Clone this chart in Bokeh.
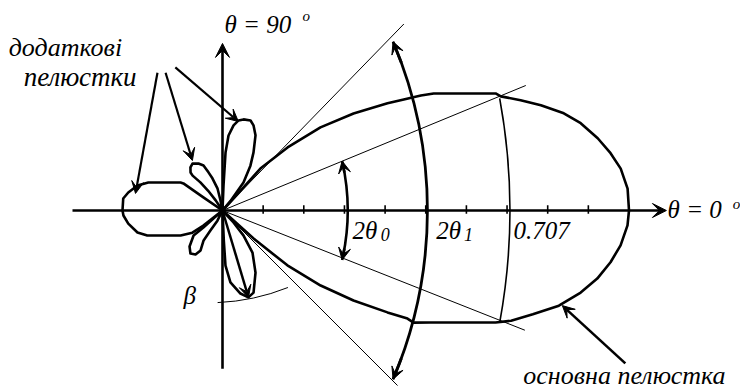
import numpy as np
from bokeh.plotting import figure
from bokeh.models import Range1d, Arrow, VeeHead, Label
from bokeh.embed import file_html
from bokeh.resources import INLINE

# Normalised field pattern |F(theta)|: angle in degrees, relative amplitude.
main_lobe_deg = [47.5, 47.9, 44.1, 40.3, 36.5, 33.0, 31.5, 30.1, 29.0, 23.2, 22.3,
                 20.3, 18.3, 15.9, 13.7, 10.9, 8.4, 6.0, 3.1, 0.0,
                 -2.1, -5.0, -7.6, -10.3, -12.9, -15.8, -18.5, -20.9, -22.3,
                 -28.3, -30.4, -30.3, -31.7, -34.5, -37.4, -40.2, -42.1]
main_lobe_r = [0.045, 0.139, 0.223, 0.316, 0.401, 0.484, 0.523, 0.564, 0.594, 0.731, 0.740,
               0.782, 0.825, 0.873, 0.907, 0.940, 0.965, 0.985, 0.998, 1.000,
               0.997, 0.983, 0.963, 0.937, 0.904, 0.860, 0.805, 0.760, 0.726,
               0.581, 0.545, 0.527, 0.477, 0.391, 0.304, 0.209, 0.103]

upper_lobe_deg = [50.0, 53.1, 58.1, 61.9, 66.3, 70.0, 72.7, 77.0, 79.9, 82.6, 85.4, 87.0, 87.7]
upper_lobe_r = [0.030, 0.086, 0.130, 0.162, 0.202, 0.223, 0.232, 0.230, 0.225, 0.211, 0.185, 0.143, 0.062]

lower_lobe_deg = [-47.5, -50.0, -54.5, -62.0, -69.3, -73.4, -77.8, -83.7, -86.9, -87.5]
lower_lobe_r = [0.040, 0.080, 0.127, 0.173, 0.216, 0.223, 0.209, 0.178, 0.136, 0.074]

upper_left_deg = [101.3, 102.8, 107.4, 110.2, 112.9, 117.1, 122.6, 126.7, 130.1, 130.6, 128.2, 126.0, 124.0]
upper_left_r = [0.025, 0.056, 0.083, 0.100, 0.120, 0.130, 0.137, 0.132, 0.122, 0.113, 0.088, 0.060, 0.030]

lower_left_deg = [-116.6, -121.0, -122.3, -118.8, -121.5, -126.7, -132.5, -139.2, -138.2, -138.4]
lower_left_r = [0.028, 0.057, 0.087, 0.112, 0.127, 0.132, 0.120, 0.094, 0.063, 0.030]

back_lobe_deg = [145.6, 145.3, 146.3, 159.3, 163.6, 169.2, 173.1, 180.0,
                 182.9, 187.9, 194.5, 198.4, 210.8, 216.3, 218.3]
back_lobe_r = [0.057, 0.117, 0.124, 0.195, 0.218, 0.236, 0.246, 0.246,
               0.244, 0.234, 0.216, 0.195, 0.120, 0.092, 0.060]

# amplitude scale marks along the 0 degree axis
scale_ticks = [0.1, 0.2, 0.3, 0.4, 0.5, 0.6, 0.7, 0.8, 0.9]
half_power_level = 0.707

W, H = 740, 391
PX = 406.5           # pixels per unit amplitude
X0, Y0 = 222, 210    # where the origin sits on the canvas

p = figure(width=W, height=H,
           x_range=Range1d(-X0 / PX, (W - X0) / PX),
           y_range=Range1d(-(H - Y0) / PX, Y0 / PX),
           output_backend="svg", toolbar_location=None, min_border=0,
           x_axis_location=None, y_axis_location=None,
           background_fill_color="white", border_fill_color="white")
p.grid.visible = False
p.outline_line_color = None

BLACK = "black"
FONT = "Liberation Serif"


def lobe(deg, r):
    t = np.radians([0.0] + list(deg) + [0.0])
    rr = np.array([0.0] + list(r) + [0.0])
    p.line(rr * np.cos(t), rr * np.sin(t), line_color=BLACK, line_width=2.6,
           line_join="round")


for d, r in [(main_lobe_deg, main_lobe_r), (upper_lobe_deg, upper_lobe_r),
             (lower_lobe_deg, lower_lobe_r), (upper_left_deg, upper_left_r),
             (lower_left_deg, lower_left_r), (back_lobe_deg, back_lobe_r)]:
    lobe(d, r)


def arrow(x1, y1, x2, y2, width=2.5, head=12):
    p.add_layout(Arrow(x_start=x1, y_start=y1, x_end=x2, y_end=y2,
                       line_color=BLACK, line_width=width,
                       end=VeeHead(size=head, fill_color=BLACK, line_color=BLACK,
                                   line_width=1)))


# coordinate axes
arrow(-0.369, 0.0, 1.092, 0.0, width=2.6, head=14)
arrow(0.0, -0.389, 0.0, 0.411, width=2.6, head=14)
p.segment(x0=scale_ticks, y0=[-0.008] * len(scale_ticks),
          x1=scale_ticks, y1=[0.013] * len(scale_ticks),
          line_color=BLACK, line_width=1.6)

# beam-width construction lines through the origin
rays = [(45.8, 0.640), (22.4, 0.807), (-21.6, 0.800), (-45.0, 0.609)]
for ang, length in rays:
    a = np.radians(ang)
    p.line([0, length * np.cos(a)], [0, length * np.sin(a)],
           line_color=BLACK, line_width=1.0)


def arc_with_heads(cx, r, a0, a1, width, heads=True):
    p.arc(x=[cx], y=[0], radius=r, start_angle=np.radians(a0),
          end_angle=np.radians(a1), line_color=BLACK, line_width=width)
    if heads:
        for a, back in [(a1, a1 - 3.0), (a0, a0 + 3.0)]:
            ta, tb = np.radians(a), np.radians(back)
            arrow(cx + r * np.cos(tb), r * np.sin(tb),
                  cx + r * np.cos(ta), r * np.sin(ta), width=width, head=12)


arc_with_heads(-0.241, 0.549, -12.8, 12.8, 2.6)      # 2θ0
arc_with_heads(-0.5586, 1.0627, -23.0, 23.0, 2.8)    # 2θ1
# half-power level arc, crossing the axis at 0.707
arc_with_heads(half_power_level - 1.5277, 1.5277, -10.4, 10.4, 1.6, heads=False)

# angle β of the first side lobe
p.arc(x=[-0.034], y=[0.298], radius=0.525, start_angle=np.radians(-87.6),
      end_angle=np.radians(-68.2), line_color=BLACK, line_width=1.0)
arrow(0.0, 0.0, 0.064, -0.214, width=2.5, head=12)

# pointers from the captions to the lobes
arrow(-0.160, 0.339, -0.214, 0.042, width=2.2)
arrow(-0.140, 0.339, -0.074, 0.123, width=2.2)
arrow(-0.116, 0.352, 0.039, 0.219, width=2.2)
arrow(0.991, -0.376, 0.836, -0.234, width=2.6)


def label(x, y, text, size=25):
    # y is the wanted baseline; the svg text sits about a third of an em low
    p.add_layout(Label(x=x, y=y + 0.32 * size / PX, text=text, text_font=FONT,
                       text_font_style="italic", text_font_size=f"{size}px",
                       text_color=BLACK, text_baseline="alphabetic",
                       text_align="left"))


label(0.005, 0.438, "θ = 90")
label(0.197, 0.467, "o", 15)
label(1.095, -0.017, "θ = 0")
label(1.255, 0.005, "o", 15)
label(0.320, -0.069, "2θ")
label(0.389, -0.074, "0", 18)
label(0.526, -0.069, "2θ")
label(0.594, -0.074, "1", 18)
label(0.716, -0.069, "0.707")
label(0.740, -0.426, "основна пелюстка", 26)
label(-0.526, 0.381, "додаткові", 26)
label(-0.489, 0.307, "пелюстки", 27)
label(-0.096, -0.229, "β", 25)

open("out.html", "w").write(file_html(p, INLINE))
